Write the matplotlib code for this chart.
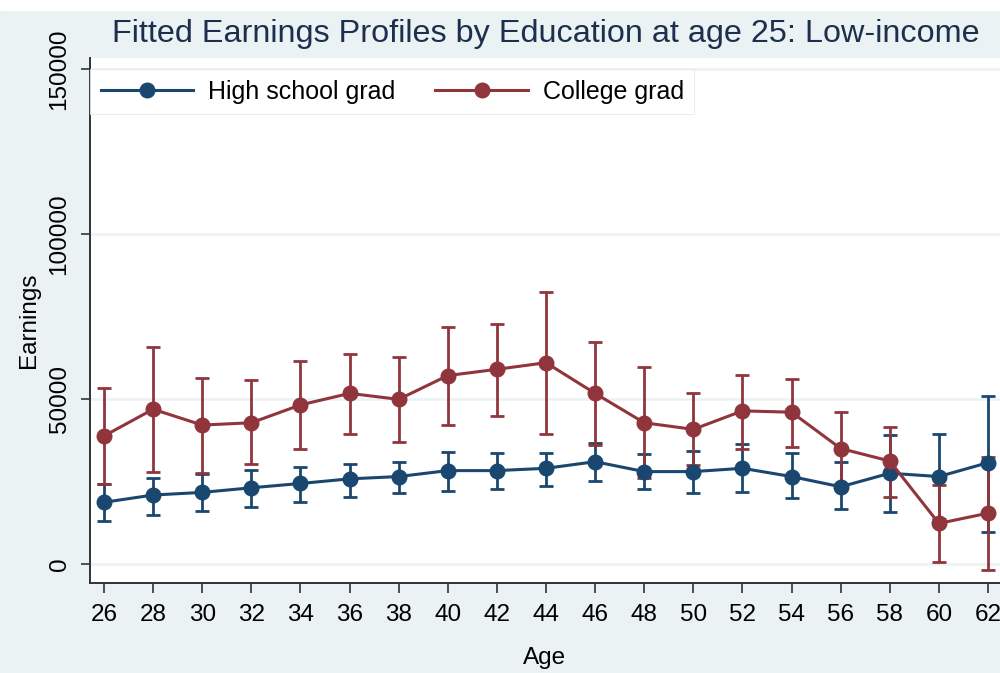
import numpy as np
import matplotlib.pyplot as plt
from matplotlib.lines import Line2D
from matplotlib.patches import Rectangle

# Donnees
ages = [26, 28, 30, 32, 34, 36, 38, 40, 42, 44, 46, 48, 50, 52, 54, 56, 58, 60, 62]

hs_mean = [18700, 20900, 21700, 23100, 24400, 25800, 26500, 28300, 28300, 29000,
           31000, 28000, 28000, 29000, 26500, 23400, 27500, 26500, 30700]
hs_lo = [13000, 14800, 16200, 17400, 18800, 20400, 21400, 22200, 22700, 23600,
         25200, 22700, 21400, 21700, 20100, 16600, 15700, 13500, 9700]
hs_hi = [24200, 26200, 27300, 28500, 29500, 30300, 31000, 33800, 33500, 33500,
         36600, 33300, 34300, 36300, 33500, 30800, 39100, 39400, 51000]

col_mean = [38800, 46900, 42100, 42800, 48200, 51700, 49900, 57100, 59000, 61000,
            51700, 42800, 40800, 46400, 46000, 35000, 31200, 12300, 15400]
col_lo = [24200, 27800, 27700, 30200, 34800, 39400, 37000, 42100, 44800, 39300,
          36200, 26000, 30000, 35000, 35400, 24100, 20200, 500, -1800]
col_hi = [53200, 65700, 56500, 55800, 61600, 63600, 62600, 71700, 72700, 82500,
          67200, 59800, 51700, 57300, 56000, 46000, 41600, 23900, 32500]

yticks = [0, 50000, 100000, 150000]
labels = ["High school grad", "College grad"]

#----------------------------------------------------------------------------------------------------

navy = "#1a476f"
maroon = "#90353b"
bg = "#eaf2f3"

plt.rcParams['font.family'] = ['Liberation Sans', 'DejaVu Sans']

fig = plt.figure(figsize=(10, 6.73), dpi=100, facecolor=bg)
ax = fig.add_axes([0.09, 1 - 583/673, 0.91, 525/673])

x = np.array(ages)
for mean, lo, hi, c in [(hs_mean, hs_lo, hs_hi, navy), (col_mean, col_lo, col_hi, maroon)]:
    mean = np.array(mean); lo = np.array(lo); hi = np.array(hi)
    ax.errorbar(x, mean, yerr=[mean - lo, hi - mean], fmt='none', ecolor=c,
                elinewidth=2.0, capsize=5, capthick=2.0, zorder=3)

ax.plot(x, hs_mean, color=navy, lw=2.2, marker='o', ms=10.5, zorder=4)
ax.plot(x, col_mean, color=maroon, lw=2.2, marker='o', ms=10.5, zorder=4)

ax.set_xlim(26 - 14/24.56, 62 + 12/24.56)
ax.set_ylim(-19*50000/165, 506*50000/165)
ax.set_xticks(ages)
ax.set_yticks(yticks)
ax.set_yticklabels([str(v) for v in yticks], rotation=90, va='center')

ax.grid(axis='y', color=bg, lw=1.8)
ax.set_axisbelow(True)
for s in ['top', 'right']:
    ax.spines[s].set_visible(False)
for s in ['left', 'bottom']:
    ax.spines[s].set_color('#333333')
    ax.spines[s].set_linewidth(1.4)

ax.tick_params(axis='x', length=7, width=1.2, color='#333333', pad=8, labelsize=17.5)
ax.tick_params(axis='y', length=6.5, width=1.2, color='#333333', pad=7.5, labelsize=17.5)

ax.set_xlabel("Age", fontsize=17.5, labelpad=15)
ax.set_ylabel("Earnings", fontsize=17.5, labelpad=6)

handles = [Line2D([], [], color=navy, lw=2.2, marker='o', ms=10.5),
           Line2D([], [], color=maroon, lw=2.2, marker='o', ms=10.5)]
leg = ax.legend(handles, labels, loc='upper left', bbox_to_anchor=(0, 514/525),
                ncol=2, fontsize=18, frameon=True, fancybox=False, facecolor='white',
                edgecolor='#e4e8ea', handlelength=3.7, handletextpad=0.6,
                columnspacing=1.6, borderpad=0.42, borderaxespad=0, numpoints=1)
leg.get_frame().set_linewidth(0.8)
leg.set_zorder(10)

fig.text(0.546, 1 - 34/673, "Fitted Earnings Profiles by Education at age 25: Low-income",
         ha='center', va='center', fontsize=23.3, color='#1d2f4d')

# bande blanche en haut (legende coupee de l'article)
fig.patches.append(Rectangle((0, 1 - 10/673), 1, 10/673, transform=fig.transFigure,
                             color='white', zorder=0))

fig.savefig("out.png", dpi=100, facecolor=bg)
